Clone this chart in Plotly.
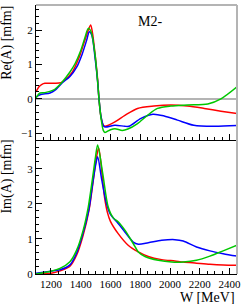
import plotly.graph_objects as go

# ---- data ----
re_red_w = [1100, 1120, 1140, 1160, 1228, 1268, 1295, 1340, 1395, 1440, 1467, 1480, 1496, 1514, 1523, 1536, 1552, 1563, 1630, 1697, 1782, 1892, 2006, 2118, 2230, 2342, 2450]
re_red_v = [0.2, 0.35, 0.42, 0.45, 0.45, 0.47, 0.55, 0.75, 1.27, 1.86, 2.15, 1.9, 1.32, 0.55, 0.0, -0.52, -0.77, -0.8, -0.67, -0.48, -0.28, -0.21, -0.18, -0.21, -0.28, -0.36, -0.43]

re_blue_w = [1100, 1127, 1194, 1228, 1272, 1328, 1373, 1410, 1440, 1458, 1475, 1496, 1514, 1523, 1536, 1552, 1563, 1630, 1697, 1724, 1805, 1885, 1961, 2050, 2160, 2295, 2450]
re_blue_v = [0.05, 0.12, 0.17, 0.25, 0.45, 0.65, 0.92, 1.3, 1.7, 1.95, 1.85, 1.22, 0.5, 0.0, -0.5, -0.78, -0.82, -0.77, -0.8, -0.8, -0.57, -0.45, -0.5, -0.62, -0.77, -0.8, -0.78]

re_green_w = [1100, 1127, 1160, 1216, 1272, 1328, 1362, 1400, 1430, 1451, 1470, 1496, 1514, 1523, 1538, 1552, 1563, 1600, 1630, 1680, 1717, 1782, 1849, 1916, 2006, 2118, 2254, 2342, 2450]
re_green_v = [0.03, 0.17, 0.18, 0.25, 0.47, 0.78, 1.02, 1.4, 1.8, 2.05, 1.95, 1.3, 0.5, 0.0, -0.6, -0.92, -0.98, -0.9, -0.87, -0.92, -0.88, -0.72, -0.48, -0.28, -0.21, -0.18, -0.15, 0.0, 0.35]

im_red_w = [1100, 1200, 1261, 1328, 1373, 1417, 1456, 1485, 1505, 1521, 1545, 1560, 1580, 1600, 1652, 1719, 1787, 1854, 1944, 2033, 2089, 2178, 2268, 2357, 2450]
im_red_v = [0.0, 0.02, 0.09, 0.22, 0.54, 1.11, 1.82, 2.68, 3.3, 3.59, 2.8, 2.2, 1.75, 1.5, 1.15, 0.82, 0.63, 0.5, 0.41, 0.37, 0.34, 0.31, 0.28, 0.26, 0.25]

im_blue_w = [1100, 1200, 1261, 1328, 1373, 1417, 1456, 1478, 1500, 1514, 1541, 1574, 1600, 1652, 1697, 1753, 1787, 1854, 1944, 2033, 2089, 2178, 2268, 2357, 2450]
im_blue_v = [0.02, 0.08, 0.12, 0.26, 0.6, 1.18, 1.86, 2.5, 3.1, 3.34, 2.7, 2.0, 1.7, 1.44, 1.2, 0.91, 0.85, 0.89, 0.96, 0.98, 0.94, 0.77, 0.66, 0.58, 0.51]

im_green_w = [1100, 1200, 1261, 1328, 1373, 1417, 1451, 1478, 1500, 1514, 1548, 1585, 1619, 1652, 1697, 1753, 1787, 1832, 1921, 2011, 2089, 2178, 2268, 2357, 2450]
im_green_v = [0.0, 0.08, 0.16, 0.35, 0.68, 1.25, 1.91, 2.68, 3.35, 3.68, 2.87, 1.91, 1.6, 1.49, 1.25, 0.87, 0.63, 0.5, 0.39, 0.34, 0.34, 0.39, 0.51, 0.66, 0.82]

x_ticks = [1200, 1400, 1600, 1800, 2000, 2200, 2400]
re_ticks = [-1, 0, 1, 2]
im_ticks = [0, 1, 2, 3]

RED, BLUE, GREEN = "#ff0000", "#0000ff", "#00c800"
FONT = "Liberation Serif"

fig = go.Figure()

def add(w, v, color, xa, ya):
    fig.add_trace(go.Scatter(x=w, y=v, mode="lines", xaxis=xa, yaxis=ya,
                             line=dict(color=color, width=1.5, shape="spline", smoothing=0.8),
                             showlegend=False, hoverinfo="skip"))

add(re_red_w, re_red_v, RED, "x2", "y2")
add(re_blue_w, re_blue_v, BLUE, "x2", "y2")
add(re_green_w, re_green_v, GREEN, "x2", "y2")
add(im_red_w, im_red_v, RED, "x", "y")
add(im_blue_w, im_blue_v, BLUE, "x", "y")
add(im_green_w, im_green_v, GREEN, "x", "y")

tickfont = dict(family=FONT, size=11, color="black")
common_x = dict(range=[1100, 2450], tickvals=x_ticks, ticks="inside", ticklen=6,
                tickcolor="black", showline=True, linecolor="black", linewidth=1,
                showgrid=False, zeroline=False, tickfont=tickfont, automargin=False,
                minor=dict(dtick=50, tick0=1100, ticks="inside", ticklen=3, tickcolor="black", showgrid=False))
split = 0.498

fig.update_layout(
    width=242, height=304,
    margin=dict(l=36, r=5, t=5, b=30, autoexpand=False),
    paper_bgcolor="white", plot_bgcolor="white",
    xaxis=dict(common_x, anchor="y", domain=[0, 1]),
    xaxis2=dict(common_x, anchor="y2", domain=[0, 1], matches="x", showticklabels=False),
    yaxis=dict(domain=[0, split], range=[0, 3.82], tickvals=im_ticks, ticks="inside", ticklen=6,
               tickcolor="black", showline=True, linecolor="black", linewidth=1, showgrid=False,
               zeroline=False, tickfont=tickfont, automargin=False,
               minor=dict(dtick=0.2, tick0=0, ticks="inside", ticklen=3, tickcolor="black", showgrid=False)),
    yaxis2=dict(domain=[split, 1], range=[-1.2, 2.73], tickvals=re_ticks, ticks="inside", ticklen=6,
                tickcolor="black", showline=True, linecolor="black", linewidth=1, showgrid=False,
                zeroline=True, zerolinecolor="#b4b4b4", zerolinewidth=2, tickfont=tickfont, automargin=False,
                minor=dict(dtick=0.2, tick0=0, ticks="inside", ticklen=3, tickcolor="black", showgrid=False)),
)

# grey frame top / right
fig.add_shape(type="line", xref="paper", yref="paper", x0=0, x1=1, y0=1, y1=1,
              line=dict(color="#b4b4b4", width=2))
fig.add_shape(type="line", xref="paper", yref="paper", x0=1, x1=1, y0=0, y1=1,
              line=dict(color="#b4b4b4", width=2))

fig.add_annotation(text="M2-", xref="paper", yref="paper", x=0.567, y=0.974,
                   showarrow=False, font=dict(family=FONT, size=14, color="black"))
fig.add_annotation(text="Re(A) [mfm]", xref="paper", yref="paper", x=-0.142, y=0.861,
                   textangle=-90, showarrow=False, xanchor="center", yanchor="middle",
                   font=dict(family=FONT, size=14, color="black"))
fig.add_annotation(text="Im(A) [mfm]", xref="paper", yref="paper", x=-0.142, y=0.364,
                   textangle=-90, showarrow=False, xanchor="center", yanchor="middle",
                   font=dict(family=FONT, size=14, color="black"))
fig.add_annotation(text="W [MeV]", xref="paper", yref="paper", x=1.0, y=-0.086,
                   showarrow=False, xanchor="right", yanchor="middle",
                   font=dict(family=FONT, size=14, color="black"))

fig.write_html("out.html", config={"displayModeBar": False},
               post_script="document.body.style.margin='0';document.body.style.padding='0';")
